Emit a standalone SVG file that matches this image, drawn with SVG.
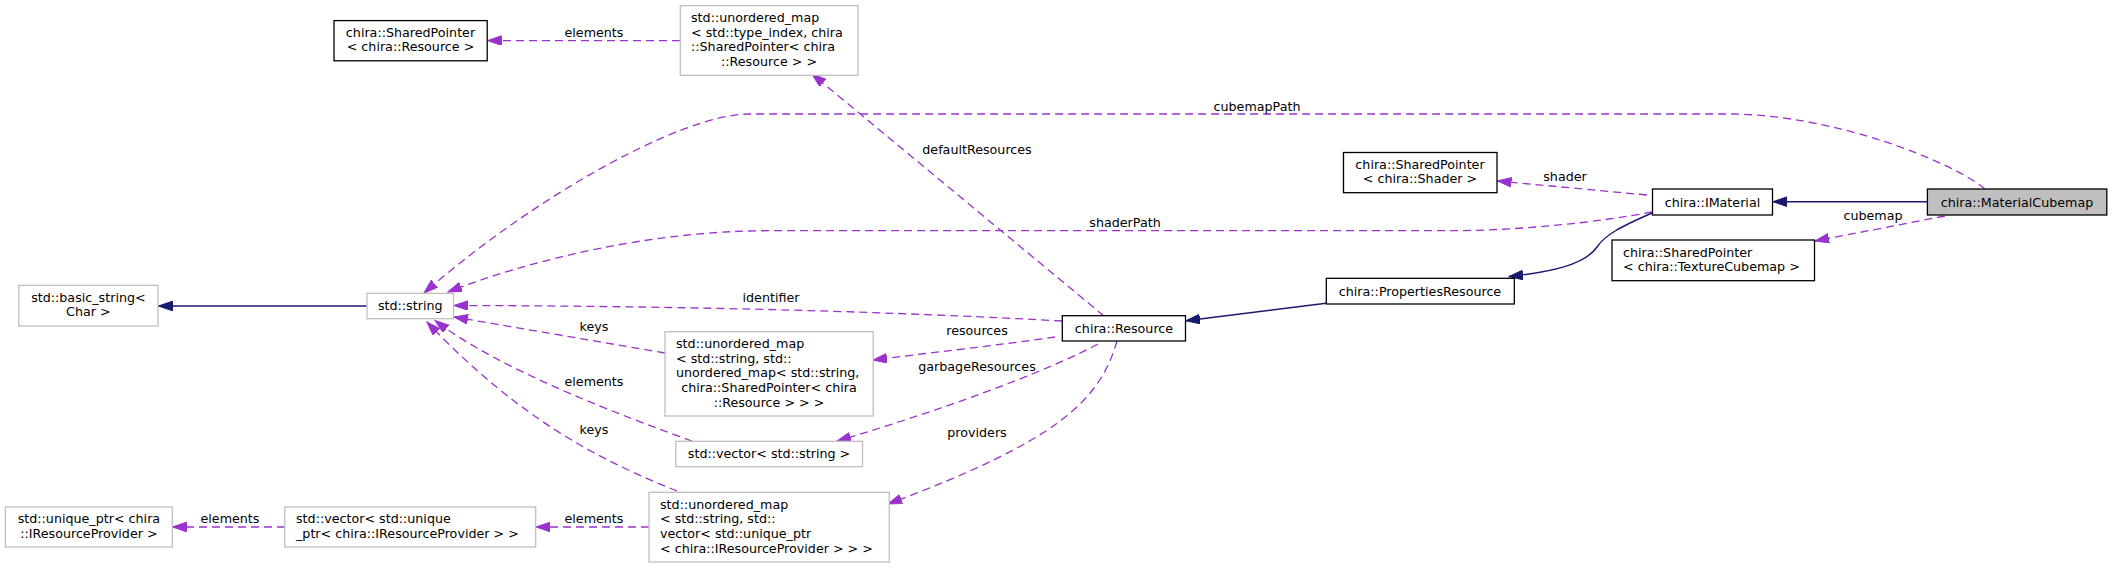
<svg xmlns="http://www.w3.org/2000/svg" width="2112" height="568" viewBox="0 0 2112 568">
<style>
text{font-family:"DejaVu Sans","Liberation Sans",sans-serif;font-size:12.7px;fill:#000}
.c{text-anchor:middle}
.l{text-anchor:start}
.doc{fill:#fff;stroke:#000;stroke-width:1.3}
.ext{fill:#fff;stroke:#bfbfbf;stroke-width:1.3}
.main{fill:#bfbfbf;stroke:#000;stroke-width:1.3}
.use{fill:none;stroke:#9a32cd;stroke-width:1.3;stroke-dasharray:8,5;marker-end:url(#pa)}
.inh{fill:none;stroke:#191970;stroke-width:1.4;marker-end:url(#ba)}
</style>
<defs>
<marker id="pa" markerUnits="userSpaceOnUse" markerWidth="15" markerHeight="11" refX="14" refY="4.8" orient="auto"><path d="M0,0 L14,4.8 L0,9.6 z" fill="#9a32cd" stroke="#9a32cd"/></marker>
<marker id="ba" markerUnits="userSpaceOnUse" markerWidth="15" markerHeight="11" refX="14" refY="4.8" orient="auto"><path d="M0,0 L14,4.8 L0,9.6 z" fill="#191970" stroke="#191970"/></marker>
</defs>
<rect width="2112" height="568" fill="#fff"/>
<g id="edges">
<path class="inh" d="M1927,201.7 L1773,201.7"/>
<path class="inh" d="M1652,213 C1620,227 1605,235 1597,247 C1585,265 1550,272 1509,276.5"/>
<path class="inh" d="M1326,303.3 L1186,320.7"/>
<path class="inh" d="M367,306 L158.5,306"/>
<path class="use" d="M1985,189 C1950,160 1830,114 1729,114 L750,114 C680,114 530,200 424,293"/>
<path class="use" d="M1652,212 C1600,222 1520,230.7 1450,230.7 L770,230.7 C650,230.7 530,260 448,292"/>
<path class="use" d="M1647,195 L1497.5,181"/>
<path class="use" d="M1945,216 L1815,241"/>
<path class="use" d="M1104,316 L812,74"/>
<path class="use" d="M1062,321 C900,312 700,306 454,305.5"/>
<path class="use" d="M1055,337 C1000,345 920,354 873,360"/>
<path class="use" d="M1098,344 C1060,365 960,405 837,441"/>
<path class="use" d="M1117,341 C1100,400 1060,440 888,504"/>
<path class="use" d="M665,353 L454,317"/>
<path class="use" d="M692,441 C620,415 500,370 435,320.5"/>
<path class="use" d="M677,491 C600,460 520,420 427,322"/>
<path class="use" d="M680,40.6 L487.5,40.6"/>
<path class="use" d="M649,527 L536,527"/>
<path class="use" d="M285,527 L172.5,527"/>
<text class="c" x="594" y="37">elements</text>
<text class="c" x="1257" y="110.5">cubemapPath</text>
<text class="c" x="977" y="153.5">defaultResources</text>
<text class="c" x="1565" y="181">shader</text>
<text class="c" x="1125" y="226.8">shaderPath</text>
<text class="c" x="1873" y="219.5">cubemap</text>
<text class="c" x="771" y="301.8">identifier</text>
<text class="c" x="594" y="330.5">keys</text>
<text class="c" x="977" y="335.2">resources</text>
<text class="c" x="977" y="371.2">garbageResources</text>
<text class="c" x="594" y="385.9">elements</text>
<text class="c" x="594" y="433.5">keys</text>
<text class="c" x="977" y="437.2">providers</text>
<text class="c" x="230" y="523.2">elements</text>
<text class="c" x="594" y="523.2">elements</text>
</g>
<g id="n_materialcubemap"><rect class="main" x="1927.4" y="189" width="179.4" height="26"/><text class="c" x="2017" y="206.5">chira::MaterialCubemap</text></g>
<g id="n_imaterial"><rect class="doc" x="1652.5" y="189" width="120" height="26"/><text class="c" x="1712.5" y="206.5">chira::IMaterial</text></g>
<g id="n_sp_shader"><rect class="doc" x="1343.5" y="152.5" width="153.5" height="40.2"/><text class="c" x="1420" y="168.8">chira::SharedPointer</text><text class="c" x="1420" y="182.8">&lt; chira::Shader &gt;</text></g>
<g id="n_sp_texcube"><rect class="doc" x="1612" y="240" width="202.5" height="40.7"/><text class="l" x="1623" y="257.2">chira::SharedPointer</text><text class="l" x="1623" y="271.2">&lt; chira::TextureCubemap &gt;</text></g>
<g id="n_propres"><rect class="doc" x="1326.3" y="278.3" width="188" height="25.7"/><text class="c" x="1420" y="295.6">chira::PropertiesResource</text></g>
<g id="n_resource"><rect class="doc" x="1062.3" y="315.7" width="123.2" height="25.3"/><text class="c" x="1124" y="332.6">chira::Resource</text></g>
<g id="n_sp_resource"><rect class="doc" x="334" y="20.6" width="153.2" height="40.2"/><text class="c" x="410.5" y="37">chira::SharedPointer</text><text class="c" x="410.5" y="51">&lt; chira::Resource &gt;</text></g>
<g id="n_map_typeindex"><rect class="ext" x="680.3" y="5.7" width="177.7" height="69.6"/><text class="l" x="691" y="21.8">std::unordered_map</text><text class="l" x="691" y="36.6">&lt; std::type_index, chira</text><text class="l" x="691" y="50.8">::SharedPointer&lt; chira</text><text class="c" x="769" y="65.6">::Resource &gt; &gt;</text></g>
<g id="n_basic_string"><rect class="ext" x="18.8" y="285.4" width="139.2" height="40.6"/><text class="c" x="88.4" y="302">std::basic_string&lt;</text><text class="c" x="88.4" y="316">Char &gt;</text></g>
<g id="n_string"><rect class="ext" x="367" y="293.4" width="86.5" height="25.3"/><text class="c" x="410.2" y="310">std::string</text></g>
<g id="n_map_string"><rect class="ext" x="665" y="331.7" width="208.2" height="84.3"/><text class="l" x="676" y="347.8">std::unordered_map</text><text class="l" x="676" y="362.8">&lt; std::string, std::</text><text class="l" x="676" y="377.2">unordered_map&lt; std::string,</text><text class="c" x="769" y="391.8">chira::SharedPointer&lt; chira</text><text class="c" x="769" y="406.8">::Resource &gt; &gt; &gt;</text></g>
<g id="n_vector_string"><rect class="ext" x="675.8" y="441.3" width="186.7" height="25.4"/><text class="c" x="769" y="458.3">std::vector&lt; std::string &gt;</text></g>
<g id="n_map_provider"><rect class="ext" x="649" y="492.3" width="240.3" height="69.7"/><text class="l" x="660" y="508.8">std::unordered_map</text><text class="l" x="660" y="523.2">&lt; std::string, std::</text><text class="l" x="660" y="537.8">vector&lt; std::unique_ptr</text><text class="l" x="660" y="552.5">&lt; chira::IResourceProvider &gt; &gt; &gt;</text></g>
<g id="n_vector_uptr"><rect class="ext" x="284.8" y="507" width="250.9" height="40"/><text class="l" x="296" y="523.2">std::vector&lt; std::unique</text><text class="l" x="296" y="537.7">_ptr&lt; chira::IResourceProvider &gt; &gt;</text></g>
<g id="n_uptr"><rect class="ext" x="5.4" y="507" width="166.9" height="40"/><text class="c" x="88.9" y="523.2">std::unique_ptr&lt; chira</text><text class="c" x="88.9" y="537.7">::IResourceProvider &gt;</text></g>
</svg>
